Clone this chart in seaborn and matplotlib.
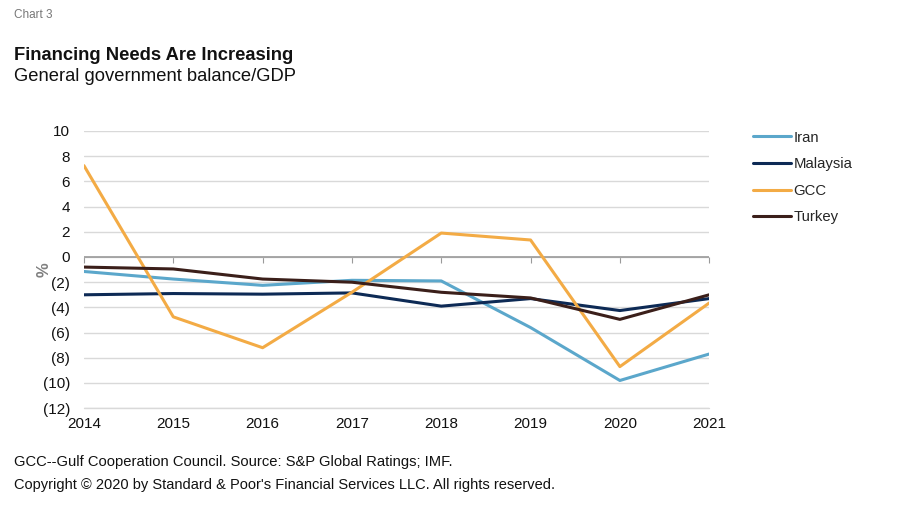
import pandas as pd
import matplotlib.pyplot as plt
import seaborn as sns

# values (% of GDP)
years = [2014, 2015, 2016, 2017, 2018, 2019, 2020, 2021]
iran = [-1.15, -1.75, -2.25, -1.85, -1.9, -5.6, -9.8, -7.7]
malaysia = [-3.0, -2.9, -2.95, -2.85, -3.9, -3.3, -4.25, -3.3]
gcc = [7.25, -4.75, -7.2, -2.8, 1.9, 1.35, -8.7, -3.65]
turkey = [-0.8, -0.95, -1.75, -2.0, -2.8, -3.25, -4.95, -3.0]

series_names = ["Iran", "Malaysia", "GCC", "Turkey"]
colors = ["#5ba7cb", "#0d2a55", "#f3ab45", "#3b1f1a"]
y_ticks = list(range(-12, 11, 2))

df = pd.DataFrame({"year": years, "Iran": iran, "Malaysia": malaysia,
                   "GCC": gcc, "Turkey": turkey})
long_df = df.melt(id_vars="year", var_name="series", value_name="value")

sns.set_style("white")
plt.rcParams["font.family"] = ["Liberation Sans", "DejaVu Sans"]

fig = plt.figure(figsize=(9, 5.24), dpi=100)
ax = fig.add_axes([0.0933, 0.221, 0.6947, 0.529])

sns.lineplot(data=long_df, x="year", y="value", hue="series",
             hue_order=series_names, palette=colors, linewidth=2.2, ax=ax)

ax.set_xlim(2014, 2021)
ax.set_ylim(-12, 10)
ax.set_yticks(y_ticks)
ax.set_yticklabels([f"({abs(t)})" if t < 0 else str(t) for t in y_ticks])
ax.set_xticks(years)
ax.set_xticklabels([str(y) for y in years])
ax.tick_params(axis="both", length=0, labelsize=11, colors="#111111")
ax.tick_params(axis="x", pad=6)
ax.tick_params(axis="y", pad=10)
for s in ax.spines.values():
    s.set_visible(False)
ax.grid(axis="y", color="#d9d9d9", linewidth=1)
ax.set_axisbelow(True)
ax.axhline(-12, color="#d9d9d9", linewidth=1, clip_on=False, zorder=0.5)
ax.set_xlabel("")
ax.set_ylabel("%", fontsize=12, fontweight="bold", color="#808080")
ax.yaxis.set_label_coords(-0.052, 0.5)

# zero axis line with small tick marks
ax.axhline(0, color="#9a9a9a", linewidth=1.2, zorder=1.5)
sec = ax.secondary_xaxis(0, transform=ax.transData)
sec.set_xticks(years)
sec.tick_params(direction="out", length=4, color="#9a9a9a", labelbottom=False)
sec.spines["bottom"].set_visible(False)

leg = ax.legend(loc="upper left", bbox_to_anchor=(1.048, 1.05), frameon=False,
                fontsize=10.7, handlelength=2.6, handletextpad=0.15,
                labelspacing=0.85)
for line in leg.get_lines():
    line.set_linewidth(2.2)

fig.text(0.015, 0.965, "Chart 3", fontsize=8.5, color="#777777")
fig.text(0.015, 0.885, "Financing Needs Are Increasing", fontsize=13.2,
         fontweight="bold", color="#111111")
fig.text(0.015, 0.845, "General government balance/GDP", fontsize=13.2,
         color="#111111")
fig.text(0.015, 0.11, "GCC--Gulf Cooperation Council. Source: S&P Global Ratings; IMF.",
         fontsize=10.6, color="#111111")
fig.text(0.015, 0.067, "Copyright \u00a9 2020 by Standard & Poor's Financial Services LLC. All rights reserved.",
         fontsize=10.5, color="#111111")

fig.savefig("out.png", dpi=100, facecolor="white")
